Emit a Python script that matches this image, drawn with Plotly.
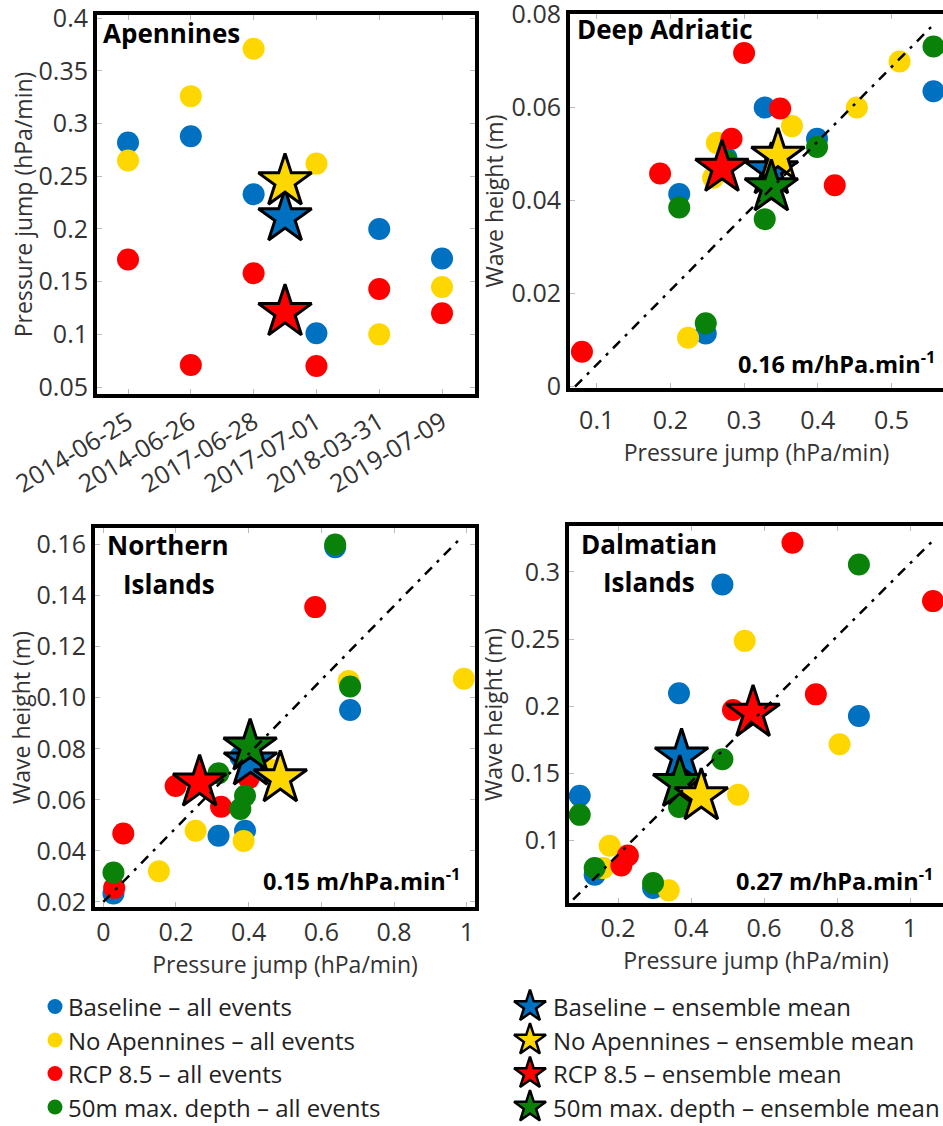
import plotly.graph_objects as go

# ---------------- data ----------------
scenarios = ["Baseline", "No Apennines", "RCP 8.5", "50m max. depth"]
colors = ["#0070C0", "#FFD700", "#FF0000", "#0A820A"]

events = ["2014-06-25", "2014-06-26", "2017-06-28", "2017-07-01", "2018-03-31", "2019-07-09"]

# Apennines: pressure jump (hPa/min) per event
apen_baseline = [0.282, 0.288, 0.233, 0.101, 0.200, 0.172]
apen_noapen = [0.265, 0.326, 0.371, 0.262, 0.100, 0.145]
apen_rcp = [0.171, 0.071, 0.158, 0.070, 0.143, 0.120]
apen_mean = [0.211, 0.245, 0.121]          # Baseline, No Apennines, RCP 8.5
apen_mean_pos = 2.5                         # placed between 2017-06-28 and 2017-07-01

# Deep Adriatic
da_base_x = [0.557, 0.328, 0.399, 0.212, 0.248, 0.276]
da_base_y = [0.0635, 0.0600, 0.0533, 0.0414, 0.0114, 0.0492]
da_noap_x = [0.511, 0.453, 0.365, 0.263, 0.258, 0.224]
da_noap_y = [0.0699, 0.0600, 0.0560, 0.0524, 0.0449, 0.0105]
da_rcp_x = [0.080, 0.300, 0.349, 0.283, 0.186, 0.423]
da_rcp_y = [0.0075, 0.0717, 0.0598, 0.0533, 0.0458, 0.0433]
da_d50_x = [0.557, 0.328, 0.399, 0.212, 0.248, 0.276]
da_d50_y = [0.0731, 0.0360, 0.0515, 0.0385, 0.0136, 0.0485]
da_mean_x = [0.337, 0.346, 0.270, 0.337]
da_mean_y = [0.0465, 0.0496, 0.0470, 0.0428]

# Northern Islands
ni_base_x = [0.638, 0.679, 0.317, 0.390, 0.377, 0.028]
ni_base_y = [0.1590, 0.0952, 0.0459, 0.0479, 0.0769, 0.0233]
ni_noap_x = [0.992, 0.675, 0.464, 0.254, 0.386, 0.153]
ni_noap_y = [0.1074, 0.1066, 0.0717, 0.0479, 0.0439, 0.0320]
ni_rcp_x = [0.583, 0.400, 0.199, 0.324, 0.055, 0.030]
ni_rcp_y = [0.1355, 0.0684, 0.0654, 0.0573, 0.0468, 0.0255]
ni_d50_x = [0.638, 0.679, 0.317, 0.390, 0.377, 0.028]
ni_d50_y = [0.1600, 0.1044, 0.0704, 0.0616, 0.0564, 0.0315]
ni_mean_x = [0.405, 0.487, 0.265, 0.404]
ni_mean_y = [0.0750, 0.0684, 0.0667, 0.0808]

# Dalmatian Islands
dm_base_x = [0.486, 0.367, 0.860, 0.095, 0.136, 0.296]
dm_base_y = [0.2906, 0.2097, 0.1928, 0.1334, 0.0747, 0.0648]
dm_noap_x = [0.547, 0.807, 0.529, 0.177, 0.159, 0.339]
dm_noap_y = [0.2487, 0.1718, 0.1341, 0.0962, 0.0796, 0.0630]
dm_rcp_x = [0.678, 1.063, 0.742, 0.515, 0.227, 0.209]
dm_rcp_y = [0.3218, 0.2783, 0.2089, 0.1973, 0.0890, 0.0816]
dm_d50_x = [0.860, 0.486, 0.367, 0.095, 0.136, 0.296]
dm_d50_y = [0.3055, 0.1606, 0.1250, 0.1192, 0.0796, 0.0685]
dm_mean_x = [0.374, 0.428, 0.570, 0.369]
dm_mean_y = [0.1626, 0.1330, 0.1950, 0.1428]

# fitted lines (slope m per hPa/min, intercept m, x extent)
fit_slope = [0.160, 0.145, 0.271]
fit_intercept = [-0.0113, 0.0200, 0.0353]
fit_xrange = [[0.0706, 0.557], [0.0, 0.986], [0.0767, 1.072]]
fit_labels = ["0.16 m/hPa.min<sup>-1</sup>", "0.15 m/hPa.min<sup>-1</sup>", "0.27 m/hPa.min<sup>-1</sup>"]

legend_events = [s + " \u2013 all events" for s in scenarios]
legend_means = [s + " \u2013 ensemble mean" for s in scenarios]

# ---------------- layout helpers ----------------
W, H = 943, 1126
FONT = "Open Sans"
TXT = "#333333"


def xdom(a, b):
    return [a / W, min(b / W, 1.0)]


def ydom(top, bottom):
    return [1 - bottom / H, 1 - top / H]


fig = go.Figure()

CIRCLE = 22
STAR = 40


def circles(xa, ya, x, y, i):
    fig.add_trace(go.Scatter(x=x, y=y, xaxis=xa, yaxis=ya, mode="markers", showlegend=False,
                             marker=dict(size=CIRCLE, color=colors[i], line=dict(width=0)),
                             hoverinfo="x+y", name=legend_events[i]))


def star(xa, ya, x, y, i):
    fig.add_trace(go.Scatter(x=[x], y=[y], xaxis=xa, yaxis=ya, mode="markers", showlegend=False,
                             marker=dict(symbol="star", size=STAR, color=colors[i],
                                         line=dict(width=3, color="black")),
                             name=legend_means[i]))


def fit_line(xa, ya, k):
    xs = fit_xrange[k]
    ys = [fit_intercept[k] + fit_slope[k] * v for v in xs]
    fig.add_trace(go.Scatter(x=xs, y=ys, xaxis=xa, yaxis=ya, mode="lines", showlegend=False,
                             line=dict(color="black", width=2.5, dash="10px,7px,3px,7px"),
                             hoverinfo="skip"))


# ---- Panel 1: Apennines ----
idx = list(range(len(events)))
circles("x", "y", idx, apen_baseline, 0)
circles("x", "y", idx, apen_noapen, 1)
circles("x", "y", idx, apen_rcp, 2)
for i in range(3):
    star("x", "y", apen_mean_pos, apen_mean[i], i)

# ---- Panel 2: Deep Adriatic ----
circles("x2", "y2", da_base_x, da_base_y, 0)
circles("x2", "y2", da_noap_x, da_noap_y, 1)
circles("x2", "y2", da_rcp_x, da_rcp_y, 2)
circles("x2", "y2", da_d50_x, da_d50_y, 3)
for i in [0, 1, 2, 3]:
    star("x2", "y2", da_mean_x[i], da_mean_y[i], i)
fit_line("x2", "y2", 0)

# ---- Panel 3: Northern Islands ----
circles("x3", "y3", ni_base_x, ni_base_y, 0)
circles("x3", "y3", ni_noap_x, ni_noap_y, 1)
circles("x3", "y3", ni_rcp_x, ni_rcp_y, 2)
circles("x3", "y3", ni_d50_x, ni_d50_y, 3)
for i in [0, 1, 2, 3]:
    star("x3", "y3", ni_mean_x[i], ni_mean_y[i], i)
fit_line("x3", "y3", 1)

# ---- Panel 4: Dalmatian Islands ----
circles("x4", "y4", dm_base_x, dm_base_y, 0)
circles("x4", "y4", dm_noap_x, dm_noap_y, 1)
circles("x4", "y4", dm_rcp_x, dm_rcp_y, 2)
circles("x4", "y4", dm_d50_x, dm_d50_y, 3)
for i in [0, 3, 1, 2]:
    star("x4", "y4", dm_mean_x[i], dm_mean_y[i], i)
fit_line("x4", "y4", 2)

# ---- custom legend (hidden axes in pixel units) ----
leg_rows = [1006.5, 1040, 1073.5, 1107]
for i in range(4):
    fig.add_trace(go.Scatter(x=[55], y=[leg_rows[i]], xaxis="x5", yaxis="y5", mode="markers",
                             showlegend=False, hoverinfo="skip",
                             marker=dict(size=15, color=colors[i], line=dict(width=0))))
    fig.add_trace(go.Scatter(x=[530], y=[leg_rows[i]], xaxis="x5", yaxis="y5", mode="markers",
                             showlegend=False, hoverinfo="skip",
                             marker=dict(symbol="star", size=24, color=colors[i],
                                         line=dict(width=2.5, color="black"))))

tickfont = dict(family=FONT, size=25, color=TXT)
titlefont = dict(family=FONT, size=23, color=TXT)

common = dict(showgrid=False, zeroline=False, showline=True, linewidth=4, linecolor="black",
              ticks="inside", ticklen=5, tickwidth=1, tickcolor="#bbbbbb", tickfont=tickfont,
              automargin=False, ticklabeloverflow="allow")

layout = dict(
    width=W, height=H, margin=dict(l=0, r=0, t=0, b=0, autoexpand=False),
    paper_bgcolor="white", plot_bgcolor="white", showlegend=False,
    font=dict(family=FONT, color=TXT),
    # Panel 1
    xaxis=dict(domain=xdom(97, 475), anchor="y", range=[-0.494, 5.525], mirror="ticks",
               tickvals=idx, ticktext=events, tickangle=-31, **common),
    yaxis=dict(domain=ydom(15, 394), anchor="x", range=[0.0434, 0.403], mirror="ticks",
               dtick=0.05, tick0=0.05,
               title=dict(text="Pressure jump (hPa/min)", font=titlefont, standoff=0), **common),
    # Panel 2
    xaxis2=dict(domain=xdom(570, 943), anchor="y2", range=[0.0638, 0.5699], mirror="ticks",
                dtick=0.1, tick0=0.1, ticklabelstandoff=7,
                title=dict(text="Pressure jump (hPa/min)", font=titlefont, standoff=10), **common),
    yaxis2=dict(domain=ydom(14, 388), anchor="x2", range=[-0.0003, 0.0801], mirror=False,
                dtick=0.02, tick0=0,
                title=dict(text="Wave height (m)", font=titlefont, standoff=2), **common),
    # Panel 3
    xaxis3=dict(domain=xdom(95, 475), anchor="y3", range=[-0.0228, 1.0226], mirror="ticks",
                dtick=0.2, tick0=0,
                title=dict(text="Pressure jump (hPa/min)", font=titlefont, standoff=10), **common),
    yaxis3=dict(domain=ydom(528, 907), anchor="x3", range=[0.018, 0.1665], mirror="ticks",
                dtick=0.02, tick0=0.02, tickformat=".2f",
                title=dict(text="Wave height (m)", font=titlefont, standoff=0), **common),
    # Panel 4
    xaxis4=dict(domain=xdom(569, 943), anchor="y4", range=[0.0656, 1.0904], mirror="ticks",
                dtick=0.2, tick0=0.2,
                title=dict(text="Pressure jump (hPa/min)", font=titlefont, standoff=10), **common),
    yaxis4=dict(domain=ydom(526, 903), anchor="x4", range=[0.0536, 0.3342], mirror=False,
                dtick=0.05, tick0=0.05,
                title=dict(text="Wave height (m)", font=titlefont, standoff=2), **common),
    # legend area
    xaxis5=dict(domain=[0, 1], anchor="y5", range=[0, W], visible=False, fixedrange=True),
    yaxis5=dict(domain=ydom(985, 1126), anchor="x5", range=[1126, 985], visible=False, fixedrange=True),
)
fig.update_layout(**layout)

# ---- annotations ----
def px_ann(text, x, y, xanchor="left", size=26, color="black"):
    fig.add_annotation(x=x / W, y=1 - y / H, xref="paper", yref="paper", text=text,
                       showarrow=False, xanchor=xanchor, yanchor="middle",
                       font=dict(family=FONT, size=size, color=color),
                       )


def b(t):
    return "<b>" + t + "</b>"


px_ann(b("Apennines"), 101, 33)
px_ann(b("Deep Adriatic"), 575, 29)
px_ann(b("Northern"), 105, 545)
px_ann(b("Islands"), 121, 584)
px_ann(b("Dalmatian"), 579, 544)
px_ann(b("Islands"), 601, 582)

px_ann(b(fit_labels[0]), 937, 362, xanchor="right", size=23.5)
px_ann(b(fit_labels[1]), 462, 879, xanchor="right", size=23.5)
px_ann(b(fit_labels[2]), 935, 879, xanchor="right", size=23.5)

for i in range(4):
    fig.add_annotation(x=66, y=leg_rows[i], xref="x5", yref="y5", text=legend_events[i],
                       showarrow=False, xanchor="left", yanchor="middle",
                       font=dict(family=FONT, size=24, color="#222222"))
    fig.add_annotation(x=551, y=leg_rows[i], xref="x5", yref="y5", text=legend_means[i],
                       showarrow=False, xanchor="left", yanchor="middle",
                       font=dict(family=FONT, size=24, color="#222222"))

fig.write_html("out.html", config={"displayModeBar": False},
               post_script="document.body.style.margin='0px';document.body.style.overflow='hidden';")
